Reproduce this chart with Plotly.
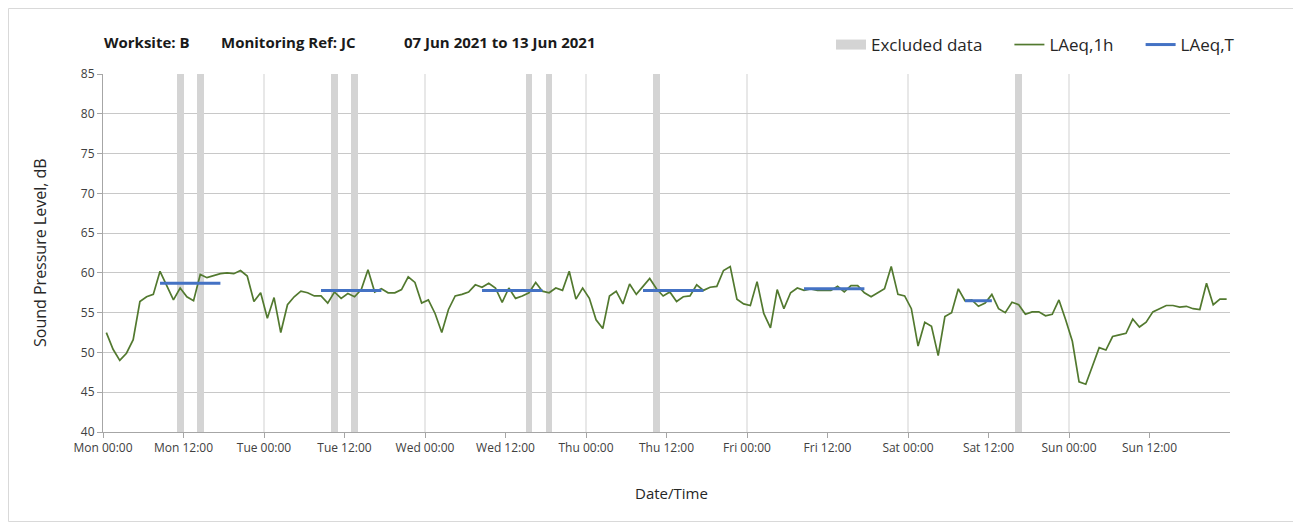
import pandas as pd
import plotly.graph_objects as go

# ---------------- data ----------------
start = pd.Timestamp("2021-06-07 00:00")
n_days = 7

# hourly LAeq,1h values (Mon 00:00 .. Sun 23:00)
laeq_1h = [
    52.5, 50.4, 49.0, 49.9, 51.6, 56.4, 57.0, 57.3, 60.2, 58.3, 56.6, 58.1,
    57.0, 56.5, 59.8, 59.4, 59.7, 59.9, 60.0, 59.9, 60.3, 59.6, 56.4, 57.5,
    54.3, 56.9, 52.5, 56.0, 57.0, 57.7, 57.5, 57.1, 57.1, 56.2, 57.6, 56.8,
    57.4, 57.0, 57.9, 60.4, 57.6, 58.0, 57.5, 57.5, 57.9, 59.5, 58.8, 56.2,
    56.6, 54.9, 52.5, 55.4, 57.1, 57.3, 57.6, 58.5, 58.2, 58.7, 58.1, 56.3,
    58.1, 56.8, 57.1, 57.5, 58.8, 57.7, 57.5, 58.1, 57.8, 60.2, 56.7, 58.1,
    56.8, 54.1, 53.0, 57.1, 57.7, 56.1, 58.6, 57.3, 58.3, 59.3, 58.0, 57.1,
    57.6, 56.4, 57.0, 57.1, 58.5, 57.8, 58.2, 58.3, 60.3, 60.8, 56.7, 56.1,
    55.9, 58.9, 54.9, 53.1, 57.9, 55.5, 57.5, 58.1, 57.8, 58.0, 57.8, 57.8,
    57.8, 58.3, 57.6, 58.4, 58.4, 57.5, 57.0, 57.5, 58.0, 60.8, 57.3, 57.1,
    55.5, 50.8, 53.8, 53.3, 49.6, 54.5, 55.0, 58.0, 56.5, 56.6, 55.8, 56.2,
    57.3, 55.5, 55.0, 56.3, 56.0, 54.8, 55.1, 55.1, 54.6, 54.8, 56.6, 54.1,
    51.4, 46.3, 46.0, 48.3, 50.6, 50.3, 52.0, 52.2, 52.4, 54.2, 53.2, 53.8,
    55.1, 55.5, 55.9, 55.9, 55.7, 55.8, 55.5, 55.4, 58.7, 56.0, 56.7, 56.7,
]

# excluded hours (hour index from Mon 00:00)
excluded_hours = [11, 14, 34, 37, 63, 66, 82, 136]

# LAeq,T periods: first and last hourly point (hour index) and level
period_first = [8, 32, 56, 80, 104, 128]
period_last = [17, 41, 65, 89, 113, 132]
period_level = [58.7, 57.8, 57.8, 57.8, 58.0, 56.5]

title_parts = ["Worksite: B", "Monitoring Ref: JC", "07 Jun 2021 to 13 Jun 2021"]
legend_names = ["Excluded data", "LAeq,1h", "LAeq,T"]

# ---------------- build ----------------
HOUR = pd.Timedelta(hours=1)
times = [start + (k + 0.5) * HOUR for k in range(len(laeq_1h))]

FONT = "Open Sans"
GREEN = "#52792f"
BLUE = "#4472c4"
GREY_BAR = "#d4d4d4"
PAD = "&nbsp;" * 5

# page has an 8px body margin -> figure is 8px smaller and shifted
OFF = 8
FIG_W, FIG_H = 1301 - OFF, 526 - OFF
L, T, W, H = 103, 74, 1127, 358          # plot area in page pixels


def px(xp):
    return (xp - L) / W


def py(yp):
    return (T + H - yp) / H


fig = go.Figure()

# excluded data bars
fig.add_trace(go.Bar(
    x=[start + (h + 0.5) * HOUR for h in excluded_hours],
    y=[45] * len(excluded_hours),
    base=40,
    width=[3600000] * len(excluded_hours),
    marker=dict(color=GREY_BAR, line=dict(width=0)),
    name=legend_names[0],
    showlegend=False,
    hoverinfo="skip",
))
# legend entry for excluded data (wide grey swatch)
fig.add_trace(go.Scatter(
    x=[None], y=[None], mode="lines",
    line=dict(color=GREY_BAR, width=12),
    name=legend_names[0] + PAD,
))

# hourly line
fig.add_trace(go.Scatter(
    x=times, y=laeq_1h, mode="lines",
    line=dict(color=GREEN, width=1.7),
    name=legend_names[1] + PAD,
))

# LAeq,T segments
xs, ys = [], []
for a, b, v in zip(period_first, period_last, period_level):
    xs += [start + (a + 0.5) * HOUR, start + (b + 0.5) * HOUR, None]
    ys += [v, v, None]
fig.add_trace(go.Scatter(
    x=xs, y=ys, mode="lines",
    line=dict(color=BLUE, width=3),
    name=legend_names[2],
))

# daily vertical gridlines
for d in range(1, n_days):
    fig.add_shape(type="line", xref="x", yref="paper",
                  x0=start + pd.Timedelta(days=d), x1=start + pd.Timedelta(days=d),
                  y0=0, y1=1, layer="below",
                  line=dict(color="#dcdcdc", width=1.3))

# outer frame
fig.add_shape(type="rect", xref="paper", yref="paper",
              x0=px(OFF + 0.5), x1=px(1296.5),
              y0=py(521.5), y1=py(OFF + 0.5),
              line=dict(color="#d9d9d9", width=1), layer="below")

title_x = [102, 219, 402]
annotations = [
    dict(text="<b>" + t + "</b>", xref="paper", yref="paper",
         x=px(xp), y=py(42), xanchor="left", yanchor="middle", showarrow=False,
         font=dict(size=15, family=FONT, color="#1a1a1a"))
    for t, xp in zip(title_parts, title_x)
]
annotations += [
    dict(text="Sound Pressure Level, dB", xref="paper", yref="paper",
         x=px(40), y=0.5, textangle=-90, showarrow=False,
         font=dict(size=16, family=FONT, color="#262626"),
         xanchor="center", yanchor="middle"),
    dict(text="Date/Time", xref="paper", yref="paper",
         x=px(671), y=py(493), showarrow=False,
         font=dict(size=15, family=FONT, color="#262626"),
         xanchor="center", yanchor="middle"),
]

fig.update_layout(
    width=FIG_W, height=FIG_H,
    margin=dict(l=L - OFF, r=FIG_W - (L - OFF) - W, t=T - OFF,
                b=FIG_H - (T - OFF) - H, autoexpand=False),
    paper_bgcolor="white", plot_bgcolor="white",
    font=dict(family=FONT, color="#262626"),
    barmode="overlay",
    bargap=0,
    showlegend=True,
    legend=dict(orientation="h", x=px(1240), xanchor="right",
                y=py(45), yanchor="middle",
                font=dict(size=17, family=FONT, color="#262626"),
                bgcolor="rgba(0,0,0,0)", traceorder="normal",
                itemwidth=30),
    annotations=annotations,
)

tick_vals = [start + pd.Timedelta(hours=12 * i) for i in range(2 * n_days)]
fig.update_xaxes(
    type="date",
    range=[start, start + pd.Timedelta(days=n_days)],
    tickmode="array", tickvals=tick_vals,
    tickformat="%a %H:%M",
    ticks="outside", ticklen=5, tickcolor="#a6a6a6",
    showgrid=False, zeroline=False,
    showline=True, linecolor="#a6a6a6", linewidth=1,
    tickfont=dict(size=12, family=FONT, color="#404040"),
    fixedrange=True,
)
fig.update_yaxes(
    range=[40, 85], dtick=5, tick0=40,
    ticks="outside", ticklen=5, tickcolor="#a6a6a6",
    showgrid=True, gridcolor="#c8c8c8", gridwidth=1,
    zeroline=False,
    showline=True, linecolor="#a6a6a6", linewidth=1,
    tickfont=dict(size=12, family=FONT, color="#404040"),
    fixedrange=True,
)

fig.write_html("out.html")
